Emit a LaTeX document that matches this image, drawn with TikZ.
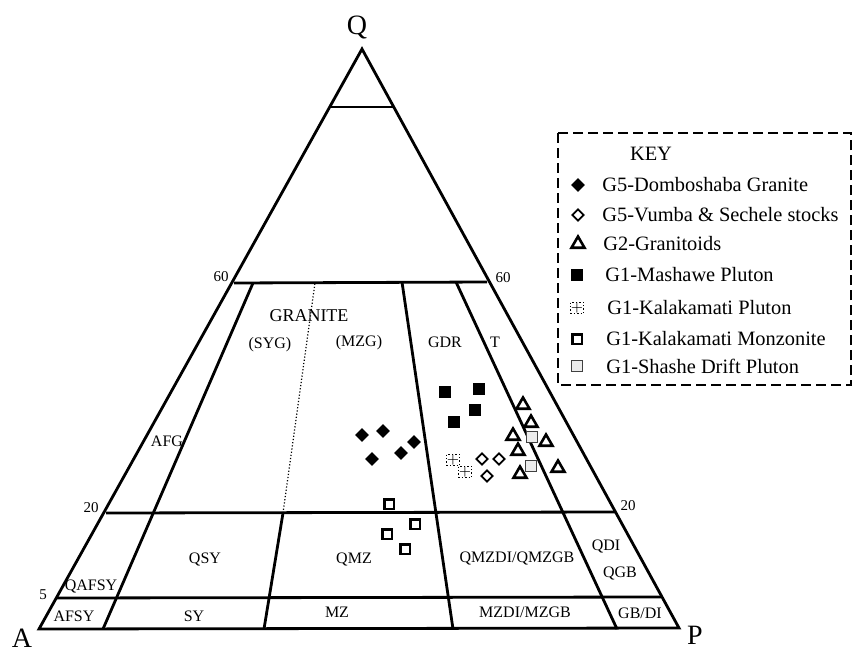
\documentclass[tikz,border=0pt]{standalone}
\usepackage{fontspec}
\setmainfont{Liberation Serif}
\usepackage{tikz}
\usetikzlibrary{positioning}
\usetikzlibrary{shapes.geometric}

\begin{document}
\begin{tikzpicture}[x=0.5pt,y=-0.5pt,
  edge/.style={black, line width=1.4pt},
  fld/.style={font=\fontsize{8}{9}\selectfont, inner sep=0pt},
  tick/.style={font=\fontsize{7.5}{9}\selectfont, inner sep=0pt},
  corner/.style={font=\fontsize{14}{16}\selectfont, inner sep=0pt},
  keytxt/.style={font=\fontsize{10.2}{12}\selectfont, inner sep=0pt, anchor=west},
  fdia/.style={diamond, fill=black, inner sep=0pt, minimum size=7pt},
  odia/.style={diamond, draw=black, line width=0.9pt, fill=white, inner sep=0pt, minimum size=6pt},
  tri/.style={regular polygon, regular polygon sides=3, draw=black, line width=1.3pt, fill=white, inner sep=0pt, minimum size=7.5pt},
  fsq/.style={rectangle, fill=black, inner sep=0pt, minimum size=6pt},
  kalak/.style={rectangle, draw=black, densely dotted, line width=0.7pt, inner sep=0.2pt, font=\fontsize{7}{7}\selectfont\bfseries},
  msq/.style={rectangle, draw=black, line width=1.3pt, fill=white, inner sep=0pt, minimum size=4.8pt},
  ssq/.style={rectangle, draw=black!75, line width=0.7pt, fill=gray!15, inner sep=0pt, minimum size=5.5pt}]

\useasboundingbox (0,0) rectangle (852,653);

% triangle
\coordinate (A) at (39,629);
\coordinate (P) at (679,628);
\coordinate (Q) at (362,49);
\draw[edge, line join=miter] (A)--(P)--(Q)--cycle;

% horizontal fields
\draw[edge] (331,107)--(393,107);
\draw[edge] (234,283)--(487,282);
\draw[edge] (106,513)--(615,512);
\draw[edge] (56,598)--(661,597);

% dividers
\draw[edge] (103,629)--(253,283);
\draw[edge] (264,629)--(283,513);
\draw[black, line width=0.6pt, densely dotted] (283,513)--(315,283);
\draw[edge] (453,629)--(402,282);
\draw[edge] (617,629)--(456,282);

% corner and tick labels
\node[corner] (lblQ) at (357,27) {Q};
\node[corner] (lblA) at (22,638) {A};
\node[corner] (lblP) at (695,635) {P};
\node[tick] (t60l) at (221,277) {60};
\node[tick] (t60r) at (503,278) {60};
\node[tick] (t20l) at (91,508) {20};
\node[tick] (t20r) at (628,506) {20};
\node[tick] (t5) at (43,595) {5};

% field names
\node[fld, font=\fontsize{9}{10}\selectfont] (granite) at (309,316) {GRANITE};
\node[fld] (syg) at (270,345) {(SYG)};
\node[fld] (mzg) at (359,343) {(MZG)};
\node[fld] (gdr) at (445,342) {GDR};
\node[fld] (ton) at (495,342) {T};
\node[fld] (afg) at (167,441) {AFG};
\node[fld] (qafsy) at (91,586) {QAFSY};
\node[fld] (qsy) at (205,559) {QSY};
\node[fld] (qmz) at (354,559) {QMZ};
\node[fld] (qmzdi) at (517,558) {QMZDI/QMZGB};
\node[fld] (qdi) at (606,546) {QDI};
\node[fld] (qgb) at (620,573) {QGB};
\node[fld] (afsy) at (74,616) {AFSY};
\node[fld] (sy) at (194,616) {SY};
\node[fld] (mz) at (337,612) {MZ};
\node[fld] (mzdi) at (525,612) {MZDI/MZGB};
\node[fld] (gbdi) at (640,613) {GB/DI};

% data
\foreach \x/\y [count=\i] in {362/435, 383/431, 414/442, 372/459, 401/453}
  \node[fdia] (dom\i) at (\x,\y) {};
\foreach \x/\y [count=\i] in {445/392, 479/389, 475/410, 454/422}
  \node[fsq] (mas\i) at (\x,\y) {};
\foreach \x/\y [count=\i] in {482/459, 499/459, 487/476}
  \node[odia] (vum\i) at (\x,\y) {};
\foreach \x/\y [count=\i] in {523/405, 531/423, 513/436, 546/442, 518/451, 558/468, 520/474}
  \node[tri] (gra\i) at (\x,\y) {};
\foreach \x/\y [count=\i] in {532/437, 531/466}
  \node[ssq] (sha\i) at (\x,\y) {};
\foreach \x/\y [count=\i] in {453/460, 465/472}
  \node[kalak] (kal\i) at (\x,\y) {$+$};
\foreach \x/\y [count=\i] in {389/504, 415/524, 387/534, 405/549}
  \node[msq] (mon\i) at (\x,\y) {};

% key
\draw[black, line width=1.3pt, dash pattern=on 5pt off 2.5pt] (558,133) rectangle (851,385);
\node[keytxt, anchor=center] (keyttl) at (651,154) {KEY};
\node[fdia] (kdom) at (578,185) {};
\node[keytxt] (tdom) at (602,185) {G5-Domboshaba Granite};
\node[odia] (kvum) at (578,215) {};
\node[keytxt] (tvum) at (602,215) {G5-Vumba \& Sechele stocks};
\node[tri] (kgra) at (578,244) {};
\node[keytxt] (tgra) at (603,244) {G2-Granitoids};
\node[fsq] (kmas) at (577,275) {};
\node[keytxt] (tmas) at (605,275) {G1-Mashawe Pluton};
\node[kalak] (kkal) at (577,308) {$+$};
\node[keytxt] (tkal) at (607,308) {G1-Kalakamati Pluton};
\node[msq] (kmon) at (577,339) {};
\node[keytxt] (tmon) at (606,339) {G1-Kalakamati Monzonite};
\node[ssq] (ksha) at (577,366) {};
\node[keytxt] (tsha) at (606,366) {G1-Shashe Drift Pluton};

\end{tikzpicture}
\end{document}
